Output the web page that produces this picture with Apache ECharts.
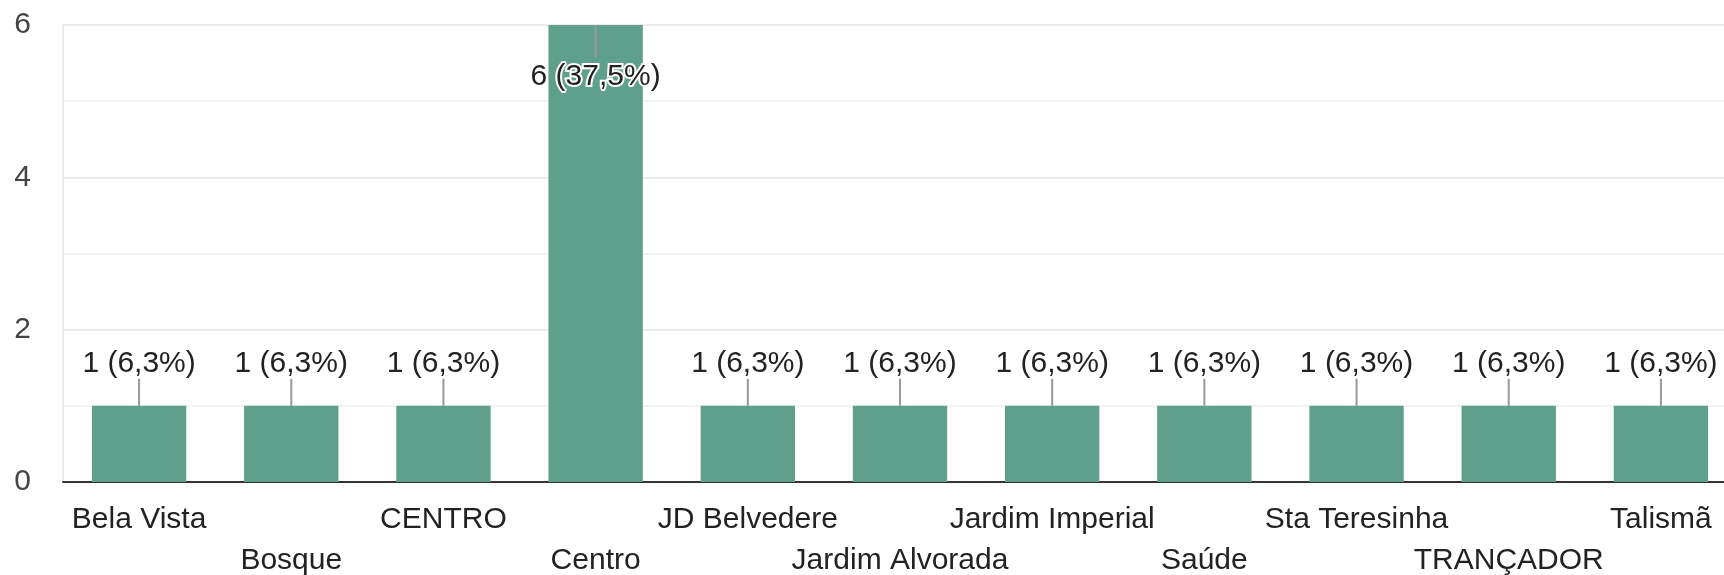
<!DOCTYPE html>
<html>
<head>
<meta charset="utf-8">
<script src="https://cdn.jsdelivr.net/npm/echarts@6/dist/echarts.min.js"></script>
<style>
html,body{margin:0;padding:0;background:#fff;}
#chart{width:1724px;height:575px;}
</style>
</head>
<body>
<div id="chart"></div>
<script>
const categories = ['Bela Vista','Bosque','CENTRO','Centro','JD Belvedere','Jardim Alvorada','Jardim Imperial','Saúde','Sta Teresinha','TRANÇADOR','Talismã'];
const counts = [1,1,1,6,1,1,1,1,1,1,1];
const percents = ['6,3%','6,3%','6,3%','37,5%','6,3%','6,3%','6,3%','6,3%','6,3%','6,3%','6,3%'];
const yTicks = [0,2,4,6];

const FONT = '"Liberation Sans", Arial, sans-serif';
const maxVal = Math.max(...counts);

const chart = echarts.init(document.getElementById('chart'), null, {renderer:'canvas'});

const barData = counts.map((v, i) => {
  const item = {value: v};
  if (v === maxVal) {
    item.label = {
      position: 'insideTop',
      distance: 37,
      textBorderColor: '#fff',
      textBorderWidth: 4
    };
  }
  return item;
});

chart.setOption({
  animation: false,
  grid: {left: 63, top: 25, width: 1674, height: 457, containLabel: false, outerBoundsMode: 'none'},
  xAxis: {
    type: 'category',
    data: categories,
    axisLine: {show: true, lineStyle: {color: '#333', width: 2}},
    axisTick: {show: false},
    axisLabel: {
      interval: 0,
      margin: 17,
      fontFamily: FONT,
      fontSize: 30,
      color: '#222',
      lineHeight: 41,
      formatter: (v, i) => (i % 2 ? '\n' + v : v)
    },
    splitLine: {show: false}
  },
  yAxis: {
    type: 'value',
    min: 0,
    max: 6,
    interval: 2,
    axisLine: {show: true, lineStyle: {color: '#ebebeb', width: 2}},
    axisTick: {show: false},
    axisLabel: {
      margin: 32,
      fontFamily: FONT,
      fontSize: 30,
      color: '#444',
      verticalAlign: 'middle',
      padding: [3, 0, 0, 0],
      formatter: v => (yTicks.includes(v) ? String(v) : '')
    },
    splitLine: {show: true, lineStyle: {color: '#ebebeb', width: 2}},
    minorTick: {show: false, splitNumber: 2},
    minorSplitLine: {show: true, lineStyle: {color: '#f3f3f3', width: 2}}
  },
  series: [
    {
      type: 'bar',
      data: barData,
      barWidth: '62%',
      itemStyle: {color: '#5ea08b'},
      label: {
        show: true,
        position: 'top',
        distance: 27,
        fontFamily: FONT,
        fontSize: 30,
        color: '#222',
        formatter: p => counts[p.dataIndex] + ' (' + percents[p.dataIndex] + ')'
      },
      z: 2
    },
    {
      type: 'custom',
      data: counts.map((v, i) => [i, v]),
      encode: {x: 0, y: 1},
      z: 3,
      silent: true,
      renderItem: (params, api) => {
        const v = api.value(1);
        const p = api.coord([api.value(0), v]);
        const y2 = v === maxVal ? p[1] + 33 : p[1] - 27;
        return {
          type: 'line',
          shape: {x1: p[0], y1: p[1], x2: p[0], y2: y2},
          style: {stroke: '#999', lineWidth: 2}
        };
      }
    }
  ]
});
</script>
</body>
</html>
